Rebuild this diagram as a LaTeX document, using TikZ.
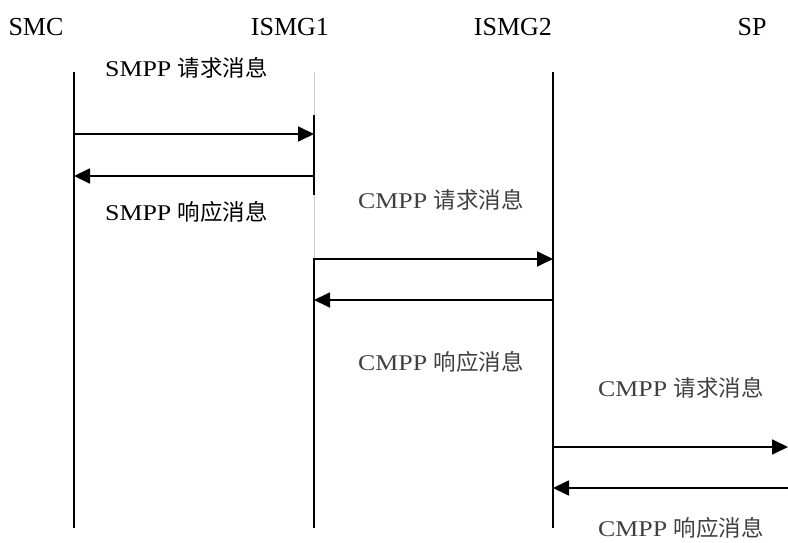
\documentclass[tikz,border=0pt]{standalone}
\usepackage{fontspec}
\setmainfont{Liberation Serif}
\newfontfamily\cjk{Noto Sans CJK SC}
\newfontfamily\lblfont[FakeStretch=1.15]{Liberation Serif}
\usetikzlibrary{arrows.meta}
\definecolor{lblgray}{HTML}{404040}
\begin{document}
\begin{tikzpicture}[x=1pt,y=-1pt,
  head/.style={inner sep=0pt,font=\fontsize{26}{28}\selectfont},
  lbl/.style={inner sep=0pt,font=\lblfont\fontsize{22.5}{25}\selectfont},
  life/.style={line width=2pt},
  lifethin/.style={line width=1.1pt},
  lifegray/.style={line width=0.8pt,draw=black!20},
  msg/.style={line width=1.8pt,-{Triangle[length=16pt,width=15pt]}}]
\useasboundingbox (0,0) rectangle (788,543);
% headers
\node[head] (hsmc) at (36,27) {SMC};
\node[head] (hi1) at (290,27) {ISMG1};
\node[head] (hi2) at (513,27) {ISMG2};
\node[head] (hsp) at (752,27) {SP};
% lifeline coordinates
\coordinate (s0) at (74,72); \coordinate (s1) at (74,528);
\coordinate (a0) at (314,72); \coordinate (a1) at (314,115); \coordinate (a2) at (314,195);
\coordinate (a3) at (314,258); \coordinate (a4) at (314,528);
\coordinate (b0) at (553,72); \coordinate (b1) at (553,238); \coordinate (b2) at (553,343);
\coordinate (b3) at (553,405); \coordinate (b4) at (553,528);
\coordinate (pr1) at (788,447); \coordinate (pr2) at (788,488);
% lifelines
\draw[life] (s0) -- (s1);
\draw[lifegray] (a0) -- (a1);
\draw[life] (a1) -- (a2);
\draw[lifegray] (a2) -- (a3);
\draw[life] (a3) -- (a4);
\draw[lifethin] (b0) -- (b4);
\draw[life] (b1) -- (b2);
\draw[life] (b3) -- (b4);
% messages
\coordinate (m1s) at (74,134); \coordinate (m1e) at (314,134);
\coordinate (m2s) at (314,176); \coordinate (m2e) at (74,176);
\coordinate (m3s) at (314,259); \coordinate (m3e) at (553,259);
\coordinate (m4s) at (553,300); \coordinate (m4e) at (314,300);
\coordinate (m5s) at (553,447); \coordinate (m6e) at (553,488);
\draw[msg] (m1s) -- (m1e);
\draw[msg] (m2s) -- (m2e);
\draw[msg] (m3s) -- (m3e);
\draw[msg] (m4s) -- (m4e);
\draw[msg] (m5s) -- (pr1);
\draw[msg] (pr2) -- (m6e);
% labels
\node[lbl,anchor=west] (l1) at (105,68) {SMPP {\cjk 请求消息}};
\node[lbl,anchor=west] (l2) at (105,212) {SMPP {\cjk 响应消息}};
\node[lbl,anchor=west,text=lblgray] (l3) at (358,200) {CMPP {\cjk 请求消息}};
\node[lbl,anchor=west,text=lblgray] (l4) at (358,362) {CMPP {\cjk 响应消息}};
\node[lbl,anchor=west,text=lblgray] (l5) at (598,388) {CMPP {\cjk 请求消息}};
\node[lbl,anchor=west,text=lblgray] (l6) at (598,528) {CMPP {\cjk 响应消息}};
\end{tikzpicture}
\end{document}
